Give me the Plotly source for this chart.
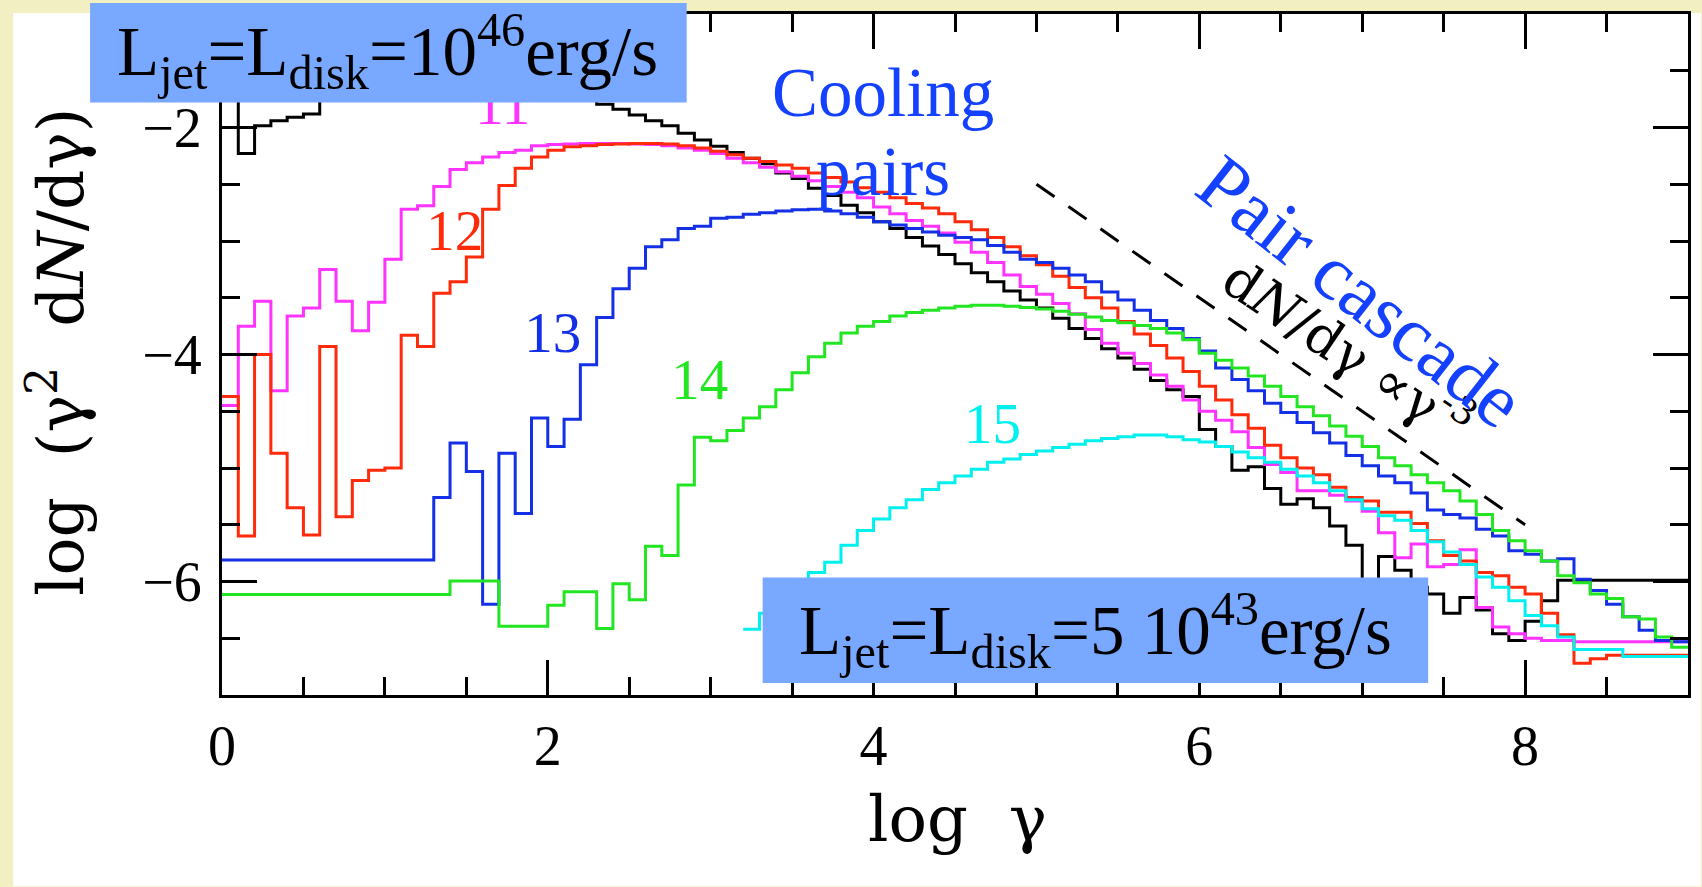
import plotly.graph_objects as go

# ---------------------------------------------------------------------------
# Pair spectra: log(gamma^2 dN/dgamma) in bins of 0.1 in log(gamma)
# ---------------------------------------------------------------------------
log_gamma_edges = [round(0.1 * i, 1) for i in range(91)]

y_black = [
    -1.60, -2.23, -1.985, -1.94, -1.91, -1.88, -1.72, -1.67, -1.63, -1.60,
    -1.57, -1.55, -1.53, -1.52, -1.51, -1.51, -1.52, -1.53, -1.55, -1.58,
    -1.62, -1.67, -1.73, -1.795, -1.84, -1.89, -1.94, -1.985, -2.05, -2.11,
    -2.165, -2.22, -2.27, -2.32, -2.40, -2.45, -2.535, -2.60, -2.685, -2.75,
    -2.83, -2.89, -2.97, -3.045, -3.12, -3.20, -3.28, -3.36, -3.44, -3.52,
    -3.59, -3.68, -3.77, -3.86, -3.95, -4.03, -4.13, -4.23, -4.31, -4.37,
    -4.66, -4.81, -5.02, -4.99, -5.18, -5.32, -5.27, -5.35, -5.51, -5.68,
    -6.20, -5.78, -5.90, -6.05, -6.11, -6.28, -6.14, -6.25, -6.46, -6.52,
    -6.35, -6.17, -5.99, -5.99, -5.99, -5.99, -5.99, -5.99, -5.99, -5.99,
]

y_11 = [
    -4.45, -3.75, -3.53, -4.32, -3.66, -3.59, -3.25, -3.53, -3.79, -3.54,
    -3.16, -2.72, -2.69, -2.52, -2.37, -2.31, -2.26, -2.22, -2.20, -2.16,
    -2.15, -2.145, -2.14, -2.14, -2.14, -2.145, -2.15, -2.16, -2.18, -2.20,
    -2.23, -2.27, -2.31, -2.35, -2.39, -2.43, -2.47, -2.52, -2.57, -2.62,
    -2.70, -2.76, -2.82, -2.87, -2.93, -3.01, -3.10, -3.19, -3.30, -3.40,
    -3.47, -3.55, -3.64, -3.78, -3.90, -3.99, -4.08, -4.18, -4.28, -4.40,
    -4.50, -4.58, -4.68, -4.82, -4.97, -5.04, -5.20, -5.20, -5.24, -5.29,
    -5.38, -5.57, -5.79, -5.67, -5.87, -5.85, -5.72, -6.23, -6.40, -6.46,
    -6.50, -6.52, -6.52, -6.53, -6.53, -6.53, -6.53, -6.53, -6.53, -6.53,
]

y_12 = [
    -4.37, -5.60, -4.00, -4.87, -5.35, -5.59, -3.93, -5.43, -5.11, -5.02,
    -5.00, -3.83, -3.93, -3.46, -3.36, -3.14, -2.72, -2.51, -2.36, -2.26,
    -2.20, -2.17, -2.16, -2.15, -2.145, -2.14, -2.14, -2.145, -2.16, -2.18,
    -2.21, -2.24, -2.27, -2.30, -2.33, -2.36, -2.40, -2.44, -2.48, -2.53,
    -2.57, -2.62, -2.67, -2.71, -2.76, -2.83, -2.90, -2.97, -3.05, -3.13,
    -3.21, -3.31, -3.41, -3.50, -3.59, -3.71, -3.82, -3.92, -4.03, -4.15,
    -4.28, -4.40, -4.53, -4.65, -4.80, -4.91, -5.00, -5.06, -5.17, -5.26,
    -5.29, -5.39, -5.39, -5.49, -5.64, -5.77, -5.82, -5.92, -5.95, -6.05,
    -6.11, -6.28, -6.47, -6.72, -6.68, -6.65, -6.65, -6.65, -6.65, -6.65,
]

y_13 = [
    -5.81, -5.81, -5.81, -5.81, -5.81, -5.81, -5.81, -5.81, -5.81, -5.81,
    -5.81, -5.81, -5.81, -5.26, -4.78, -5.03, -6.20, -4.87, -5.40, -4.56,
    -4.81, -4.57, -4.09, -3.675, -3.42, -3.24, -3.05, -2.99, -2.89, -2.87,
    -2.80, -2.79, -2.765, -2.75, -2.735, -2.725, -2.72, -2.735, -2.76, -2.79,
    -2.83, -2.86, -2.89, -2.92, -2.95, -2.97, -2.99, -3.04, -3.10, -3.16,
    -3.19, -3.24, -3.30, -3.36, -3.45, -3.52, -3.61, -3.70, -3.77, -3.86,
    -3.97, -4.12, -4.22, -4.32, -4.43, -4.51, -4.60, -4.69, -4.78, -4.89,
    -4.98, -5.07, -5.13, -5.22, -5.37, -5.41, -5.44, -5.54, -5.60, -5.73,
    -5.76, -5.82, -5.80, -5.98, -6.08, -6.20, -6.31, -6.43, -6.52, -6.53,
]

y_14 = [
    -6.115, -6.115, -6.115, -6.115, -6.115, -6.115, -6.115, -6.115, -6.115, -6.115,
    -6.115, -6.115, -6.115, -6.115, -5.995, -5.995, -5.995, -6.395, -6.395, -6.395,
    -6.21, -6.09, -6.09, -6.415, -6.02, -6.16, -5.69, -5.77, -5.15, -4.73,
    -4.76, -4.67, -4.56, -4.46, -4.31, -4.16, -4.02, -3.90, -3.81, -3.75,
    -3.71, -3.66, -3.63, -3.61, -3.59, -3.575, -3.565, -3.565, -3.575, -3.585,
    -3.60, -3.62, -3.645, -3.67, -3.70, -3.72, -3.745, -3.77, -3.81, -3.87,
    -3.99, -4.05, -4.12, -4.19, -4.28, -4.37, -4.46, -4.54, -4.63, -4.72,
    -4.81, -4.91, -4.98, -5.06, -5.13, -5.20, -5.29, -5.41, -5.55, -5.64,
    -5.73, -5.82, -5.95, -6.01, -6.11, -6.15, -6.31, -6.33, -6.49, -6.58,
]

# the "15" spectrum only starts at log(gamma) = 3.2
start_15 = 3.2
y_15 = [
    -6.42, -6.28, -6.14, -6.02, -5.92, -5.83, -5.68, -5.55,
    -5.45, -5.35, -5.28, -5.19, -5.13, -5.07, -5.01, -4.95, -4.92, -4.88,
    -4.85, -4.82, -4.79, -4.76, -4.74, -4.725, -4.71, -4.71, -4.725, -4.75,
    -4.77, -4.81, -4.86, -4.91, -4.95, -5.01, -5.07, -5.13, -5.20, -5.28,
    -5.36, -5.42, -5.46, -5.55, -5.65, -5.74, -5.85, -5.96, -6.05, -6.17,
    -6.30, -6.39, -6.49, -6.60, -6.60, -6.60, -6.66, -6.66, -6.66, -6.66,
]

# reference power law dN/dgamma ~ gamma^-3, i.e. slope -1 in this plot
slope_x = [5.0, 8.0]
slope_y = [-2.5, -5.5]

# curve labels
label_text = ["11", "12", "13", "14", "15"]
label_x = [1.724, 1.429, 2.031, 2.933, 4.730]
label_y = [-1.842, -2.956, -3.851, -4.263, -4.658]

C_BLACK = "#000000"
C_MAG = "#ff33ff"
C_RED = "#ff2a0a"
C_BLUE = "#1430e6"
C_GREEN = "#22e622"
C_CYAN = "#00f0f0"
C_TEXT = "#1440ff"
C_BOX = "#78a8ff"
C_BG = "#f2efc2"

SERIF = "Liberation Serif, Times New Roman, Times, Nimbus Roman, serif"
HERSHEY = "DejaVu Serif"

# plot-area geometry in pixels
W, H = 1702, 887
L, R, T, B = 222, 13, 11, 192
PW, PH = W - L - R, H - T - B


def px(p):
    return (p - L) / PW


def py(p):
    return (H - B - p) / PH


def step_xy(start, values):
    i0 = log_gamma_edges.index(start)
    xs = log_gamma_edges[i0:i0 + len(values) + 1]
    ys = list(values) + [values[-1]]
    return xs, ys


fig = go.Figure()

for vals, col, start in [
    (y_black, C_BLACK, 0.0),
    (y_11, C_MAG, 0.0),
    (y_12, C_RED, 0.0),
    (y_13, C_BLUE, 0.0),
    (y_14, C_GREEN, 0.0),
    (y_15, C_CYAN, start_15),
]:
    xs, ys = step_xy(start, vals)
    fig.add_trace(go.Scatter(
        x=xs, y=ys, mode="lines", line=dict(color=col, width=3, shape="hv"),
        hoverinfo="skip", showlegend=False,
    ))

fig.add_trace(go.Scatter(
    x=slope_x, y=slope_y, mode="lines",
    line=dict(color="black", width=3, dash="22px,17px"),
    hoverinfo="skip", showlegend=False,
))

fig.add_trace(go.Scatter(
    x=label_x, y=label_y, mode="text", text=label_text,
    textfont=dict(family=SERIF, size=57,
                  color=[C_MAG, C_RED, C_BLUE, C_GREEN, C_CYAN]),
    textposition="middle center", hoverinfo="skip", showlegend=False,
))

shapes = [
    # white panel on the pale yellow page
    dict(type="rect", xref="paper", yref="paper", layer="below",
         x0=px(13), x1=px(W), y0=py(H), y1=py(10),
         fillcolor="white", line=dict(width=0)),
    # luminosity boxes
    dict(type="rect", xref="paper", yref="paper", layer="above",
         x0=px(90), x1=px(687), y0=py(100), y1=py(0),
         fillcolor=C_BOX, line=dict(width=0)),
    dict(type="rect", xref="paper", yref="paper", layer="above",
         x0=px(763), x1=px(1429), y0=py(683), y1=py(577),
         fillcolor=C_BOX, line=dict(width=0)),
]

annotations = [
    dict(x=px(388), y=py(48), xref="paper", yref="paper", showarrow=False,
         text="L<sub>jet</sub>=L<sub>disk</sub>=10<sup>46</sup>erg/s",
         font=dict(family=SERIF, size=69, color="black"),
         xanchor="center", yanchor="middle"),
    dict(x=px(1096), y=py(630), xref="paper", yref="paper", showarrow=False,
         text="L<sub>jet</sub>=L<sub>disk</sub>=5 10<sup>43</sup>erg/s",
         font=dict(family=SERIF, size=69, color="black"),
         xanchor="center", yanchor="middle"),
    dict(x=px(883), y=py(90), xref="paper", yref="paper", showarrow=False,
         text="Cooling", font=dict(family=SERIF, size=69, color=C_TEXT),
         xanchor="center", yanchor="middle"),
    dict(x=px(883), y=py(170), xref="paper", yref="paper", showarrow=False,
         text="pairs", font=dict(family=SERIF, size=69, color=C_TEXT),
         xanchor="center", yanchor="middle"),
    dict(x=px(1350), y=py(347), xref="paper", yref="paper", showarrow=False,
         text="d<i>N</i>/dγ ∝γ<sup>-3</sup>",
         font=dict(family=HERSHEY, size=53, color="black"),
         textangle=34, xanchor="center", yanchor="middle"),
    dict(x=px(1362), y=py(290), xref="paper", yref="paper", showarrow=False,
         text="Pair cascade", font=dict(family=SERIF, size=78, color=C_TEXT),
         textangle=38, xanchor="center", yanchor="middle"),
    # axis titles
    dict(x=px(958), y=py(820), xref="paper", yref="paper", showarrow=False,
         text="log\u00a0\u00a0γ", font=dict(family=HERSHEY, size=64, color="black"),
         xanchor="center", yanchor="middle"),
    dict(x=px(56), y=py(350), xref="paper", yref="paper", showarrow=False,
         text="log\u00a0\u00a0(γ<sup>2</sup>\u00a0\u00a0d<i>N</i>/dγ)",
         font=dict(family=HERSHEY, size=63, color="black"),
         textangle=-90, xanchor="center", yanchor="middle"),
]

axis_common = dict(
    showline=True, linewidth=3, linecolor="black", mirror="ticks",
    ticks="inside", tickwidth=3, tickcolor="black", ticklen=35,
    showgrid=False, zeroline=False,
    tickfont=dict(family=SERIF, size=56, color="black"),
    minor=dict(ticks="inside", ticklen=18, tickwidth=3, tickcolor="black",
               dtick=0.5, showgrid=False),
)

fig.update_layout(
    width=W, height=H,
    margin=dict(l=L, r=R, t=T, b=B),
    paper_bgcolor=C_BG, plot_bgcolor="white",
    showlegend=False,
    xaxis=dict(range=[0, 9], tick0=0, dtick=2, ticklabelstandoff=0,
               **axis_common),
    yaxis=dict(range=[-7, -1], tick0=0, dtick=2, ticklabelstandoff=6,
               **axis_common),
    shapes=shapes,
    annotations=annotations,
)

fig.write_html("out.html")
